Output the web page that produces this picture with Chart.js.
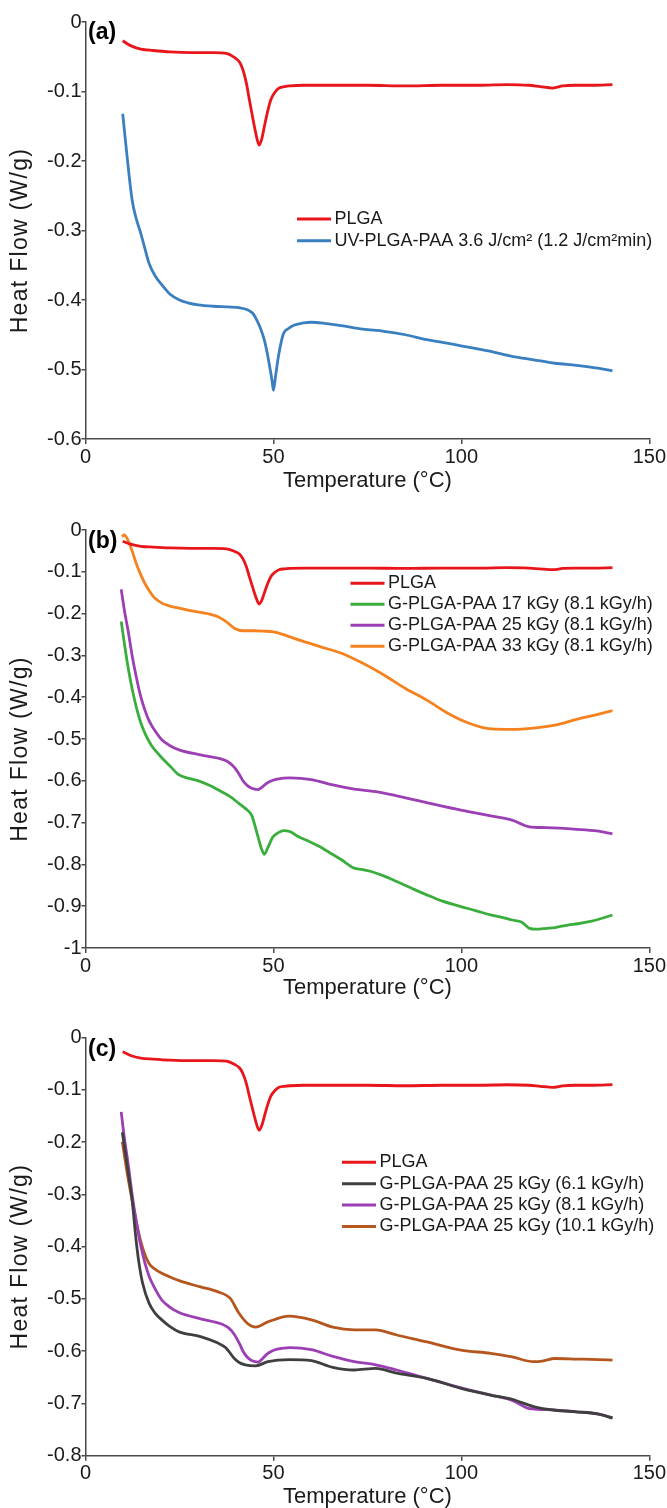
<!DOCTYPE html>
<html><head><meta charset="utf-8">
<script src="https://cdn.jsdelivr.net/npm/chart.js@4.4.1/dist/chart.umd.min.js"></script>
<style>
html,body{margin:0;padding:0;background:#fff;width:667px;height:1508px;overflow:hidden}
canvas{position:absolute;left:0}
</style></head><body>
<canvas id="ca" width="667" height="510" style="top:0px"></canvas>
<canvas id="cb" width="667" height="500" style="top:510px"></canvas>
<canvas id="cc" width="667" height="498" style="top:1010px"></canvas>
<script>
// ---------- data ----------
const xTicks = [0, 50, 100, 150];
const yTicksA = [0, -0.1, -0.2, -0.3, -0.4, -0.5, -0.6];
const yTicksB = [0, -0.1, -0.2, -0.3, -0.4, -0.5, -0.6, -0.7, -0.8, -0.9, -1];
const yTicksC = [0, -0.1, -0.2, -0.3, -0.4, -0.5, -0.6, -0.7, -0.8];

const labelPLGA = 'PLGA';
const labelUV = 'UV-PLGA-PAA 3.6 J/cm\u00B2 (1.2 J/cm\u00B2min)';
const labelG17 = 'G-PLGA-PAA 17 kGy (8.1 kGy/h)';
const labelG25 = 'G-PLGA-PAA 25 kGy (8.1 kGy/h)';
const labelG33 = 'G-PLGA-PAA 33 kGy (8.1 kGy/h)';
const labelG25s = 'G-PLGA-PAA 25 kGy (6.1 kGy/h)';
const labelG25f = 'G-PLGA-PAA 25 kGy (10.1 kGy/h)';
const xTitle = 'Temperature (\u00B0C)';
const yTitle = 'Heat Flow (W/g)';

const plgaT  = [9.9, 12, 14.7, 18, 22.5, 28, 34, 37.5, 39.6, 41, 41.9, 42.8, 43.6, 44.5, 45.3, 46.2, 46.9, 47.6, 48.4, 49.3, 50.4, 51.5, 53, 54.4, 58, 65, 75, 85, 95, 105, 112, 118, 121, 124.3, 127, 130, 135, 140.2];
const plgaHF = [-0.027, -0.034, -0.039, -0.041, -0.043, -0.044, -0.044, -0.045, -0.051, -0.058, -0.069, -0.088, -0.112, -0.138, -0.160, -0.177, -0.168, -0.150, -0.130, -0.112, -0.101, -0.095, -0.093, -0.092, -0.091, -0.091, -0.091, -0.092, -0.091, -0.091, -0.090, -0.091, -0.093, -0.095, -0.092, -0.091, -0.091, -0.090];

const uvT  = [9.9, 11, 12.4, 13.5, 14.7, 16, 16.9, 18.5, 20.3, 22.6, 25, 27.2, 30, 34, 38, 40.8, 43.1, 44.5, 45.3, 46.5, 47.6, 48.3, 49, 49.6, 50, 50.6, 51.3, 52, 52.7, 54, 55.6, 58, 60.1, 64, 68, 73.8, 79.4, 85.1, 90.8, 95, 99.9, 104, 107.8, 113.5, 119.2, 124.9, 130.6, 136.3, 140.2];
const uvHF = [-0.132, -0.190, -0.256, -0.283, -0.304, -0.330, -0.347, -0.365, -0.378, -0.392, -0.400, -0.404, -0.407, -0.409, -0.410, -0.411, -0.414, -0.419, -0.426, -0.440, -0.458, -0.475, -0.496, -0.515, -0.530, -0.508, -0.482, -0.462, -0.448, -0.441, -0.436, -0.433, -0.432, -0.434, -0.437, -0.442, -0.445, -0.450, -0.457, -0.461, -0.466, -0.470, -0.474, -0.481, -0.486, -0.491, -0.494, -0.498, -0.502];

const g33T  = [9.7, 10.3, 11.3, 12.4, 13.5, 14.6, 15.8, 17, 18.1, 20.3, 22.5, 24.9, 27.5, 30.6, 33, 35.1, 37.4, 39.6, 41.9, 44.5, 47.6, 50, 52.2, 56.7, 62.4, 68.1, 73.8, 79.4, 85.1, 90.8, 96.5, 102.2, 107.9, 113.5, 119.2, 124.9, 130.6, 136.3, 140.2];
const g33HF = [-0.016, -0.012, -0.024, -0.050, -0.080, -0.105, -0.128, -0.146, -0.160, -0.175, -0.182, -0.187, -0.192, -0.197, -0.201, -0.207, -0.219, -0.235, -0.241, -0.241, -0.242, -0.244, -0.249, -0.263, -0.279, -0.295, -0.319, -0.347, -0.379, -0.407, -0.439, -0.463, -0.476, -0.477, -0.474, -0.467, -0.453, -0.441, -0.432];

const g25T  = [9.5, 10.4, 11.3, 12.4, 13.5, 14.6, 15.8, 17, 18.1, 20.3, 22.5, 24.9, 30.6, 36.2, 38, 39.6, 41, 41.9, 43, 44.2, 45.9, 47, 48.2, 49.5, 51, 54.4, 60.1, 65.8, 71.5, 77.2, 82.8, 90.8, 99.9, 107.8, 113.5, 118.1, 122.6, 130.6, 136, 140.2];
const g25HF = [-0.142, -0.195, -0.239, -0.300, -0.351, -0.395, -0.431, -0.458, -0.475, -0.502, -0.516, -0.526, -0.538, -0.548, -0.555, -0.568, -0.586, -0.600, -0.611, -0.618, -0.621, -0.615, -0.606, -0.600, -0.596, -0.593, -0.597, -0.610, -0.620, -0.626, -0.636, -0.652, -0.670, -0.684, -0.694, -0.710, -0.712, -0.716, -0.720, -0.727];

const g17T  = [9.5, 10.4, 11.3, 12.4, 13.5, 14.6, 15.8, 17.5, 19.2, 20.3, 22.6, 24.9, 27.5, 30.6, 33.5, 36.2, 38.5, 40.8, 42.5, 44.2, 45, 45.9, 46.8, 47.6, 48.5, 49.9, 51.3, 52.7, 54.5, 56.7, 59.5, 62.4, 65, 68.1, 71.5, 73.5, 76, 79.5, 82.8, 86.5, 90.8, 95, 99.9, 104, 107.8, 110, 113.5, 116, 118.1, 120, 122.6, 125, 128.3, 131, 134, 137, 140.2];
const g17HF = [-0.219, -0.275, -0.327, -0.380, -0.423, -0.458, -0.486, -0.515, -0.534, -0.545, -0.566, -0.586, -0.594, -0.602, -0.613, -0.626, -0.638, -0.654, -0.666, -0.682, -0.705, -0.734, -0.762, -0.776, -0.760, -0.734, -0.724, -0.719, -0.722, -0.734, -0.745, -0.758, -0.772, -0.789, -0.809, -0.812, -0.817, -0.828, -0.841, -0.856, -0.873, -0.888, -0.901, -0.911, -0.921, -0.925, -0.933, -0.938, -0.953, -0.955, -0.953, -0.951, -0.945, -0.942, -0.937, -0.930, -0.921];

const g25sT  = [9.8, 11, 12.4, 13.5, 14.2, 15.2, 16.9, 18.5, 20.3, 22.5, 24.9, 30.6, 35.1, 37.4, 39.6, 41, 42.5, 45.3, 48.5, 54.2, 60.1, 65.8, 71.5, 77.2, 82.8, 90.8, 99.9, 107.8, 113.5, 119.2, 124.9, 130.6, 136.3, 140.2];
const g25sHF = [-0.181, -0.240, -0.311, -0.390, -0.430, -0.470, -0.508, -0.527, -0.540, -0.553, -0.563, -0.572, -0.584, -0.594, -0.614, -0.622, -0.626, -0.628, -0.620, -0.616, -0.618, -0.631, -0.636, -0.633, -0.642, -0.652, -0.671, -0.684, -0.692, -0.706, -0.713, -0.716, -0.720, -0.728];

const g25fT  = [9.8, 11, 12.4, 13.5, 14.7, 15.8, 16.9, 18.5, 20.3, 22.5, 24.9, 30.6, 35.1, 38.5, 40.8, 43.1, 45.3, 48.5, 54.2, 60.1, 65.8, 71.5, 77.2, 82.8, 90.8, 99.9, 107.8, 113.5, 119.2, 121.5, 124.9, 130.6, 136.3, 140.2];
const g25fHF = [-0.199, -0.255, -0.311, -0.352, -0.390, -0.415, -0.432, -0.443, -0.451, -0.458, -0.465, -0.477, -0.486, -0.499, -0.527, -0.547, -0.554, -0.544, -0.533, -0.540, -0.554, -0.559, -0.559, -0.569, -0.582, -0.598, -0.604, -0.611, -0.620, -0.619, -0.614, -0.615, -0.616, -0.617];

// ---------- styling ----------
const FONT = "'Liberation Sans', Arial, Helvetica, sans-serif";
const TXT = '#1a1a1a';
const AXIS = '#4a4a4a';
const C = { red:'#e8151b', blue:'#3a7fc0', green:'#3aae3c', purple:'#9c3fb4', orange:'#f5821f', gray:'#3f3f3f', brown:'#b5561f' };

function pts(T, H){ return T.map((t,i)=>({x:t, y:H[i]})); }
function ds(label, T, H, color){
  return { label, data: pts(T,H), borderColor: color, backgroundColor: color,
    borderWidth: 2.8, pointRadius: 0, fill: false, cubicInterpolationMode: 'monotone' };
}
function fmt(v){ const r = Math.round(v*10)/10; return r === 0 ? '0' : String(r); }

const panelPlugin = {
  id: 'panelDecor',
  afterDraw(chart, args, o){
    const ctx = chart.ctx;
    const ca = chart.chartArea;
    ctx.save();
    // legend
    ctx.font = '18px ' + FONT;
    ctx.textBaseline = 'middle';
    ctx.textAlign = 'left';
    chart.data.datasets.forEach((d, i) => {
      const y = o.ly + i*o.gap;
      ctx.strokeStyle = d.borderColor; ctx.lineWidth = 3;
      ctx.beginPath(); ctx.moveTo(o.lx, y); ctx.lineTo(o.lx + o.len, y); ctx.stroke();
      ctx.fillStyle = TXT;
      ctx.fillText(d.label, o.lx + o.len + 3.5, y);
    });
    // panel tag
    ctx.font = 'bold 23px ' + FONT;
    ctx.fillStyle = '#000';
    ctx.fillText(o.tag, o.tx, o.ty);
    // y axis title
    ctx.translate(21, (ca.top + ca.bottom)/2 + 10);
    ctx.rotate(-Math.PI/2);
    ctx.font = '23px ' + FONT;
    ctx.textAlign = 'center';
    ctx.fillStyle = TXT;
    try { ctx.letterSpacing = '1.3px'; } catch(e) {}
    ctx.fillText(yTitle, 0, 0);
    ctx.restore();
  }
};

function makeChart(id, datasets, yTicks, ymin, top, bottomH, titlePad, deco){
  return new Chart(document.getElementById(id), {
    type: 'line',
    data: { datasets },
    options: {
      responsive: false, animation: false, maintainAspectRatio: false,
      layout: { padding: { top: top, right: 17, left: 0, bottom: 0 } },
      plugins: { legend: { display: false }, tooltip: { enabled: false }, panelDecor: deco },
      scales: {
        x: {
          type: 'linear', min: 0, max: 150,
          afterBuildTicks: s => { s.ticks = xTicks.map(v => ({value: v})); },
          afterFit: s => { s.height = bottomH; },
          border: { color: AXIS, width: 1.5 },
          grid: { drawOnChartArea: false, drawTicks: true, tickLength: 5, color: AXIS, lineWidth: 1.5 },
          ticks: { color: TXT, font: { family: FONT, size: 20 }, padding: 1, maxRotation: 0 },
          title: { display: true, text: xTitle, color: TXT,
                   font: { family: FONT, size: 22, lineHeight: 1 }, padding: { top: 0, bottom: titlePad } }
        },
        y: {
          type: 'linear', min: ymin, max: 0,
          afterBuildTicks: s => { s.ticks = yTicks.map(v => ({value: v})); },
          afterFit: s => { s.width = 85.5; },
          border: { color: AXIS, width: 1.5 },
          grid: { drawOnChartArea: false, drawTicks: true, tickLength: 4, color: AXIS, lineWidth: 1.5 },
          ticks: { color: TXT, font: { family: FONT, size: 20 }, padding: 0, callback: v => fmt(v) },
          title: { display: false, text: yTitle }
        }
      }
    },
    plugins: [panelPlugin]
  });
}

makeChart('ca', [
  ds(labelPLGA, plgaT, plgaHF, C.red),
  ds(labelUV, uvT, uvHF, C.blue)
], yTicksA, -0.6, 22, 71, 18, { lx: 297, ly: 219, gap: 21.7, len: 34, tag: '(a)', tx: 88, ty: 33 });

makeChart('cb', [
  ds(labelPLGA, plgaT, plgaHF, C.red),
  ds(labelG17, g17T, g17HF, C.green),
  ds(labelG25, g25T, g25HF, C.purple),
  ds(labelG33, g33T, g33HF, C.orange)
], yTicksB, -1, 20, 62, 11.5, { lx: 350.5, ly: 73.3, gap: 21, len: 34, tag: '(b)', tx: 88, ty: 32 });

makeChart('cc', [
  ds(labelPLGA, plgaT, plgaHF, C.red),
  ds(labelG25s, g25sT, g25sHF, C.gray),
  ds(labelG25, g25T, g25HF, C.purple),
  ds(labelG25f, g25fT, g25fHF, C.brown)
], yTicksC, -0.8, 27.7, 52.3, 0, { lx: 342, ly: 152.3, gap: 21.4, len: 34, tag: '(c)', tx: 88, ty: 40 });
</script>
</body></html>
